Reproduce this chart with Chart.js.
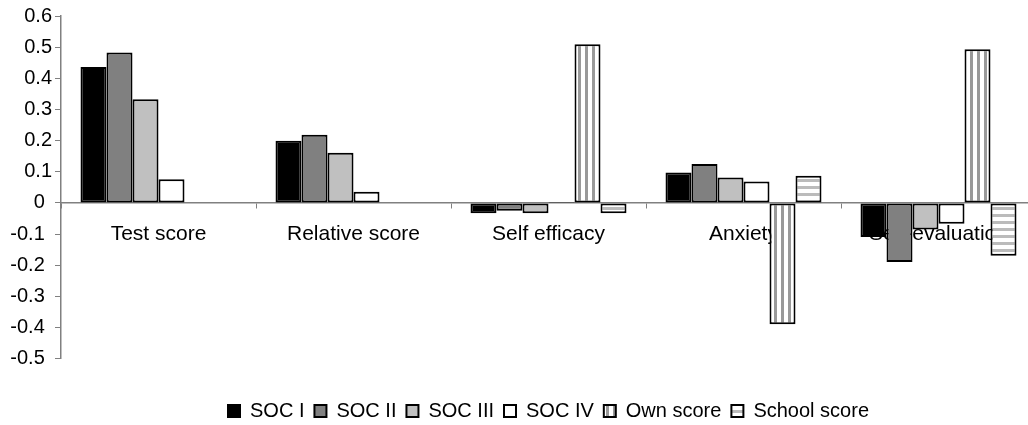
<!DOCTYPE html>
<html>
<head>
<meta charset="utf-8">
<script src="https://cdn.jsdelivr.net/npm/chart.js@4/dist/chart.umd.min.js"></script>
<style>
  html, body { margin: 0; padding: 0; background: #fff; overflow: hidden; }
  #wrap { width: 1040px; height: 431px; position: relative; }
</style>
</head>
<body>
<div id="wrap"><canvas id="socChart"></canvas></div>
<script>
const categories = ["Test score", "Relative score", "Self efficacy", "Anxiety", "Self-evaluation"];
const seriesNames = ["SOC I", "SOC II", "SOC III", "SOC IV", "Own score", "School score"];

const socI = [0.436, 0.200, -0.033, 0.098, -0.109];
const socII = [0.483, 0.219, -0.025, 0.125, -0.189];
const socIII = [0.333, 0.161, -0.033, 0.082, -0.085];
const socIV = [0.076, 0.036, 0.003, 0.069, -0.067];
const ownScore = [null, null, 0.509, -0.389, 0.493];
const schoolScore = [null, null, -0.033, 0.087, -0.169];

const yTicks = [-0.5, -0.4, -0.3, -0.2, -0.1, 0, 0.1, 0.2, 0.3, 0.4, 0.5, 0.6];

const FONT = "'Liberation Sans', Arial, sans-serif";

function stripes(vertical, light, dark) {
  const c = document.createElement("canvas");
  c.width = vertical ? 7 : 1;
  c.height = vertical ? 1 : 7;
  const g = c.getContext("2d");
  g.fillStyle = light;
  g.fillRect(0, 0, c.width, c.height);
  g.fillStyle = dark;
  if (vertical) g.fillRect(4, 0, 3, 1);
  else g.fillRect(0, 4, 1, 3);
  return g.createPattern(c, "repeat");
}

const fills = [
  "#000000",
  "#808080",
  "#c0c0c0",
  "#ffffff",
  stripes(true, "#ffffff", "#999999"),
  stripes(false, "#ffffff", "#bbbbbb"),
];
const values = [socI, socII, socIII, socIV, ownScore, schoolScore];

const datasets = seriesNames.map((name, i) => ({
  label: name,
  data: values[i],
  backgroundColor: fills[i],
  borderColor: "#000000",
  borderWidth: 2,
  borderSkipped: false,
  categoryPercentage: 0.8,
  barPercentage: 1.0,
}));

// positive labels sit further right than zero / negatives in the original
function tickText(v) {
  const s = Number(Number(v).toFixed(1)).toString();
  return v > 0.00001 ? s : s + " \u200A";
}

new Chart(document.getElementById("socChart"), {
  type: "bar",
  data: { labels: categories, datasets },
  options: {
    responsive: true,
    maintainAspectRatio: false,
    animation: false,
    layout: { padding: { top: 16, right: 4, left: 0, bottom: 0 } },
    plugins: {
      tooltip: { enabled: false },
      legend: {
        position: "bottom",
        fullSize: false,
        title: { display: true, text: " ", font: { size: 1 }, padding: { top: 31, bottom: 0 } },
        labels: {
          font: { family: FONT, size: 20 },
          color: "#000",
          boxWidth: 12,
          boxHeight: 12,
          padding: 10,
        },
      },
    },
    scales: {
      x: {
        type: "category",
        position: { y: 0 },
        z: 1,
        offset: true,
        grid: {
          offset: true,
          drawOnChartArea: false,
          drawTicks: true,
          tickLength: 5,
          color: "#808080",
        },
        border: { color: "#808080", width: 1.5 },
        ticks: {
          font: { family: FONT, size: 21 },
          color: "#000",
          padding: 14,
          maxRotation: 0,
          autoSkip: false,
        },
      },
      y: {
        min: -0.5,
        max: 0.6,
        afterFit: (scale) => { scale.width = 61; },
        afterBuildTicks: (scale) => { scale.ticks = yTicks.map((v) => ({ value: v })); },
        grid: {
          drawOnChartArea: false,
          tickLength: 6,
          color: "#808080",
        },
        border: { color: "#808080", width: 1.5 },
        ticks: {
          font: { family: FONT, size: 20 },
          color: "#000",
          padding: 3,
          callback: tickText,
        },
      },
    },
  },
});
</script>
</body>
</html>
